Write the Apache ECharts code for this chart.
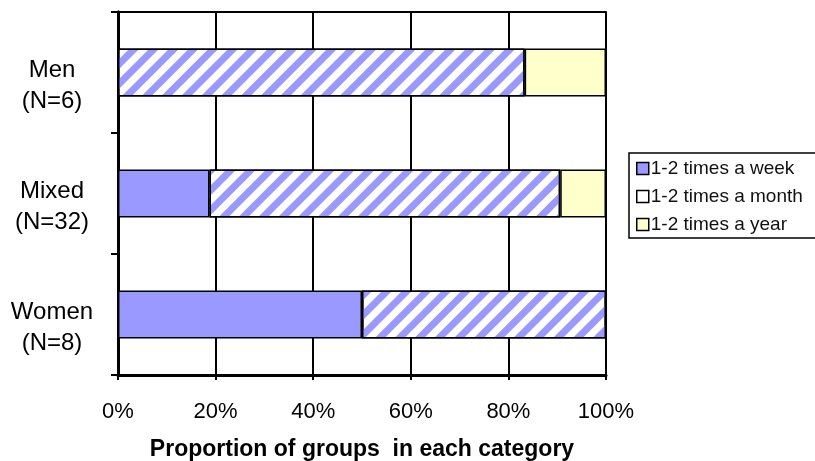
<!DOCTYPE html>
<html>
<head>
<meta charset="utf-8">
<script src="https://cdn.jsdelivr.net/npm/echarts@6/dist/echarts.min.js"></script>
<style>
  html, body { margin: 0; padding: 0; background: #fff; }
  #chart { width: 815px; height: 461px; }
</style>
</head>
<body>
<div id="chart"></div>
<script>
// Group types with their sizes
const categories = ['Men\n(N=6)', 'Mixed\n(N=32)', 'Women\n(N=8)'];
// Share of groups (%) meeting at each frequency
const weekly  = [0, 18.75, 50];
const monthly = [83.33, 71.87, 50];
const yearly  = [16.67, 9.38, 0];
const seriesNames = ['1-2 times a week', '1-2 times a month', '1-2 times a year'];
const xTicks = [0, 20, 40, 60, 80, 100];

const blue = '#9999ff';
const cream = '#ffffcc';
const font = 'Liberation Sans, Arial, sans-serif';

const chart = echarts.init(document.getElementById('chart'), null, { renderer: 'canvas' });

const barBase = {
  type: 'bar',
  stack: 'total',
  barWidth: 48,
  emphasis: { disabled: true }
};

// Category label: a short blank spacer line pushes the two text lines slightly below the band centre
const categoryLabel = v => '{s| }\n' + v.split('\n').map(line => '{t|' + line + '}').join('\n');

chart.setOption({
  animation: false,
  backgroundColor: '#fff',
  grid: { left: 118, right: 209, top: 12, bottom: 86, containLabel: false, outerBoundsMode: 'none' },
  legend: {
    orient: 'vertical',
    left: 629,
    top: 153,
    icon: 'rect',
    itemWidth: 12,
    itemHeight: 12,
    itemGap: 9,
    padding: [6, 14, 4, 7],
    borderColor: '#000',
    borderWidth: 1.5,
    textStyle: { fontFamily: font, fontSize: 19, color: '#111', padding: [0, 0, 0, -3] },
    data: [
      { name: seriesNames[0], itemStyle: { color: blue, borderColor: '#000', borderWidth: 1.5 } },
      { name: seriesNames[1], itemStyle: { color: '#fff', borderColor: '#000', borderWidth: 1.5, decal: 'none' } },
      { name: seriesNames[2], itemStyle: { color: cream, borderColor: '#000', borderWidth: 1.5 } }
    ]
  },
  xAxis: [
    {
      type: 'value',
      min: 0,
      max: 100,
      interval: 20,
      name: 'Proportion of groups  in each category',
      nameLocation: 'middle',
      nameGap: 63,
      nameTextStyle: { fontFamily: font, fontSize: 23, fontWeight: 'bold', color: '#000' },
      axisLine: { show: true, lineStyle: { color: '#000', width: 3 } },
      axisTick: { show: true, length: 5, lineStyle: { color: '#000', width: 2 } },
      splitLine: { show: true, lineStyle: { color: '#000', width: 2 } },
      axisLabel: {
        margin: 26,
        formatter: v => xTicks.includes(v) ? v + '%' : '',
        fontFamily: font,
        fontSize: 22,
        color: '#000'
      }
    },
    {
      // plot frame along the top edge
      type: 'value',
      position: 'top',
      min: 0,
      max: 100,
      interval: 20,
      axisLine: { show: true, lineStyle: { color: '#000', width: 2 } },
      axisTick: { show: false },
      axisLabel: { show: false },
      splitLine: { show: false }
    }
  ],
  yAxis: [
    {
      type: 'category',
      data: categories,
      inverse: true,
      axisLine: { show: true, lineStyle: { color: '#000', width: 3 } },
      axisTick: { show: true, length: 7, lineStyle: { color: '#000', width: 2 } },
      axisLabel: {
        margin: 66,
        align: 'center',
        formatter: categoryLabel,
        rich: {
          s: { fontSize: 10, lineHeight: 26, fontFamily: font },
          t: { fontSize: 24, lineHeight: 31, fontFamily: font, color: '#000', align: 'center' }
        }
      }
    },
    {
      // plot frame along the right edge
      type: 'category',
      data: categories,
      position: 'right',
      inverse: true,
      axisLine: { show: true, lineStyle: { color: '#000', width: 3 } },
      axisTick: { show: false },
      axisLabel: { show: false }
    }
  ],
  series: [
    Object.assign({}, barBase, {
      name: seriesNames[0],
      data: weekly,
      itemStyle: { color: blue, borderColor: '#000', borderWidth: 1.5 }
    }),
    Object.assign({}, barBase, {
      name: seriesNames[1],
      data: monthly,
      itemStyle: {
        color: '#fff',
        borderColor: '#000',
        borderWidth: 1.5,
        decal: {
          symbol: 'rect',
          color: blue,
          dashArrayX: [1, 0],
          dashArrayY: [7, 7],
          rotation: -Math.PI / 4
        }
      }
    }),
    Object.assign({}, barBase, {
      name: seriesNames[2],
      data: yearly,
      itemStyle: { color: cream, borderColor: '#000', borderWidth: 1.5 }
    })
  ]
});
</script>
</body>
</html>
